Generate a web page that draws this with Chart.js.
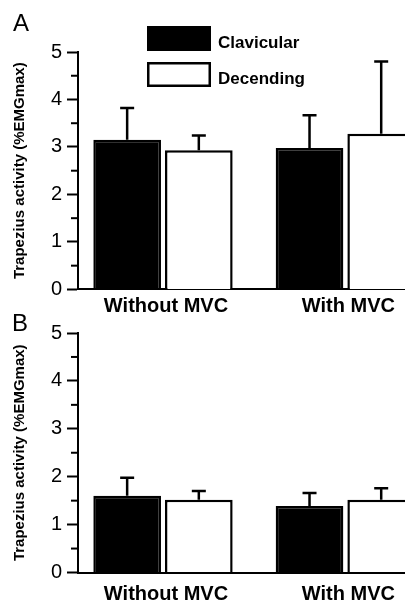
<!DOCTYPE html>
<html>
<head>
<meta charset="utf-8">
<script src="https://cdn.jsdelivr.net/npm/chart.js@4.4.1/dist/chart.umd.min.js"></script>
<style>
  html, body { margin: 0; padding: 0; background: #fff; }
  body { width: 405px; height: 603px; position: relative; overflow: hidden; font-family: 'Liberation Sans', Arial, sans-serif; }
  canvas { position: absolute; left: 0; }
  #chartA { top: 0; }
  #chartB { top: 300px; }
  .panel { position: absolute; font-size: 24px; line-height: 1; color: #000; }
</style>
</head>
<body>
<canvas id="chartA" width="405" height="320"></canvas>
<canvas id="chartB" width="405" height="303"></canvas>
<div class="panel" style="left:13px;top:11px">A</div>
<div class="panel" style="left:12px;top:311px">B</div>
<script>
const groups = ['Without MVC', 'With MVC'];
const seriesNames = ['Clavicular', 'Decending'];
const yTicks = [0, 1, 2, 3, 4, 5];
const yTitle = 'Trapezius activity (%EMGmax)';

// panel A - mean and SD
const clavA = [3.15, 2.98];
const clavSdA = [0.67, 0.69];
const descA = [2.93, 3.28];
const descSdA = [0.31, 1.52];

// panel B - mean and SD
const clavB = [1.60, 1.39];
const clavSdB = [0.38, 0.27];
const descB = [1.52, 1.52];
const descSdB = [0.18, 0.24];

Chart.defaults.font.family = "'Liberation Sans', Arial, sans-serif";
Chart.defaults.color = '#000';

// error bars (upper half only)
const errorBars = {
    id: 'errorBars',
    afterDatasetsDraw(chart) {
        const ctx = chart.ctx;
        const y = chart.scales.y;
        ctx.save();
        ctx.strokeStyle = '#000';
        ctx.lineWidth = 2.5;
        chart.data.datasets.forEach((ds, i) => {
            chart.getDatasetMeta(i).data.forEach((bar, j) => {
                const top = y.getPixelForValue(ds.data[j].y + ds.sd[j]);
                ctx.beginPath();
                ctx.moveTo(bar.x, bar.y);
                ctx.lineTo(bar.x, top);
                ctx.moveTo(bar.x - 7, top);
                ctx.lineTo(bar.x + 7, top);
                ctx.stroke();
            });
        });
        ctx.restore();
    }
};

// short ticks half way between the labelled ones
const minorTicks = {
    id: 'minorTicks',
    afterDraw(chart) {
        const ctx = chart.ctx;
        const y = chart.scales.y;
        const left = chart.chartArea.left;
        ctx.save();
        ctx.strokeStyle = '#000';
        ctx.lineWidth = 2;
        for (let i = 0; i < y.ticks.length - 1; i++) {
            const py = y.getPixelForValue((y.ticks[i].value + y.ticks[i + 1].value) / 2);
            ctx.beginPath();
            ctx.moveTo(left - 7, py);
            ctx.lineTo(left, py);
            ctx.stroke();
        }
        ctx.restore();
    }
};

// legend boxes inside panel A
const boxLegend = {
    id: 'boxLegend',
    afterDraw(chart, args, opts) {
        if (!opts.show) return;
        const ctx = chart.ctx;
        ctx.save();
        ctx.font = 'bold 17px ' + Chart.defaults.font.family;
        ctx.textBaseline = 'middle';
        chart.data.datasets.forEach((ds, i) => {
            const top = 26 + i * 36;
            ctx.fillStyle = ds.backgroundColor;
            ctx.fillRect(147, top, 64, 25);
            ctx.strokeStyle = '#000';
            ctx.lineWidth = 2.5;
            ctx.strokeRect(148.25, top + 1.25, 61.5, 22.5);
            ctx.fillStyle = '#000';
            ctx.fillText(ds.label, 218, top + 17);
        });
        ctx.restore();
    }
};

function makePanel(id, clav, clavSd, desc, descSd, padTop, xHeight, labelPad, showLegend) {
    const pos = groups.map((g, i) => i + 1);
    new Chart(document.getElementById(id).getContext('2d'), {
        type: 'bar',
        data: {
            datasets: [{
                label: seriesNames[0],
                data: pos.map((x, i) => ({ x: x, y: clav[i] })),
                sd: clavSd,
                backgroundColor: '#000',
                borderColor: '#000',
                borderWidth: 2.5
            }, {
                label: seriesNames[1],
                data: pos.map((x, i) => ({ x: x, y: desc[i] })),
                sd: descSd,
                backgroundColor: '#fff',
                borderColor: '#000',
                borderWidth: 2.5
            }]
        },
        options: {
            responsive: false,
            animation: false,
            events: [],
            categoryPercentage: 0.786,
            barPercentage: 0.944,
            layout: { padding: { top: padTop, left: 0, right: 0, bottom: 0 } },
            plugins: {
                legend: { display: false },
                tooltip: { enabled: false },
                boxLegend: { show: showLegend }
            },
            scales: {
                x: {
                    type: 'linear',
                    min: 0.534,
                    max: 2.327,
                    offset: false,
                    afterBuildTicks: (s) => { s.ticks = pos.map(v => ({ value: v })); },
                    afterFit: (s) => { s.height = xHeight; },
                    grid: { display: false, drawTicks: false, offset: false },
                    border: { color: '#000', width: 2 },
                    ticks: {
                        padding: labelPad,
                        labelOffset: 3,
                        maxRotation: 0,
                        autoSkip: false,
                        font: { size: 20, weight: 'bold' },
                        callback: (v) => groups[v - 1]
                    }
                },
                y: {
                    min: 0,
                    max: 5,
                    afterBuildTicks: (s) => { s.ticks = yTicks.map(v => ({ value: v })); },
                    afterFit: (s) => { s.width = 78; },
                    grid: { drawOnChartArea: false, tickLength: 11, tickWidth: 2, tickColor: '#000' },
                    border: { color: '#000', width: 2 },
                    ticks: { padding: 5, font: { size: 20 } },
                    title: {
                        display: true,
                        text: yTitle,
                        font: { size: 15, weight: 'bold' },
                        padding: { top: 11, bottom: 0 }
                    }
                }
            }
        },
        plugins: [errorBars, minorTicks, boxLegend]
    });
}

makePanel('chartA', clavA, clavSdA, descA, descSdA, 52, 30.6, 5, true);
makePanel('chartB', clavB, clavSdB, descB, descSdB, 33, 30.5, 10, false);
</script>
</body>
</html>
